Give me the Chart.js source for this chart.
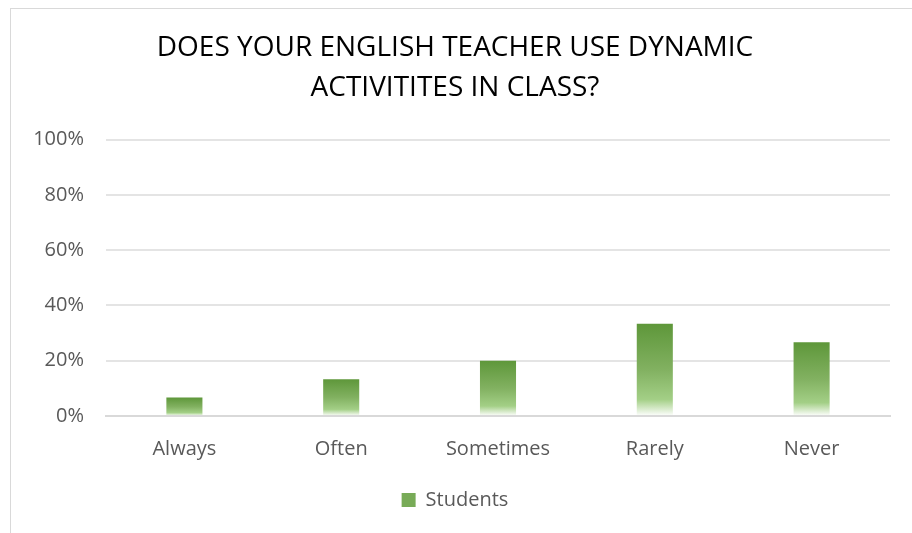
<!DOCTYPE html>
<html>
<head>
<meta charset="utf-8">
<script src="https://cdn.jsdelivr.net/npm/chart.js@4/dist/chart.umd.min.js"></script>
<style>
  html, body { margin: 0; padding: 0; background: #fff; }
  #frame {
    position: absolute; left: 10px; top: 8px; width: 920px; height: 540px;
    border-left: 1px solid #d9d9d9; border-top: 1px solid #d9d9d9;
  }
  #wrap { position: absolute; left: 0; top: 0; width: 912px; height: 533px; }
</style>
</head>
<body>
<div id="frame"></div>
<div id="wrap"><canvas id="chart"></canvas></div>
<script>
// chart data
const categories = ["Always", "Often", "Sometimes", "Rarely", "Never"];
const studentValues = [6.67, 13.33, 20, 33.33, 26.67];
const yTicks = [0, 20, 40, 60, 80, 100];
const titleLines = ["DOES YOUR ENGLISH TEACHER USE DYNAMIC", "ACTIVITITES IN CLASS?"];

const FONT = "'Open Sans', 'Liberation Sans', sans-serif";
const GREY = "#595959";

// per-bar gradient: dark green at top, fading to white at the base
function barFill(ctx) {
  const chart = ctx.chart;
  if (!chart.chartArea || ctx.dataIndex === undefined) return "#70a84c";
  const y = chart.scales.y;
  const top = y.getPixelForValue(studentValues[ctx.dataIndex]);
  const base = y.getPixelForValue(0);
  const g = chart.ctx.createLinearGradient(0, top, 0, base);
  g.addColorStop(0, "#5e973a");
  g.addColorStop(0.5, "#82b161");
  g.addColorStop(0.82, "#a3cf86");
  g.addColorStop(1, "#ffffff");
  return g;
}

new Chart(document.getElementById("chart"), {
  type: "bar",
  data: {
    labels: categories,
    datasets: [{
      label: "Students",
      data: studentValues,
      backgroundColor: barFill,
      borderWidth: 0,
      categoryPercentage: 0.46,
      barPercentage: 0.5,
    }],
  },
  options: {
    responsive: true,
    maintainAspectRatio: false,
    animation: false,
    layout: { padding: { left: 20, right: 22, top: 28, bottom: 13 } },
    plugins: {
      title: {
        display: true,
        text: titleLines,
        color: "#000",
        font: { family: FONT, size: 28, weight: "normal", lineHeight: 1.42 },
        padding: { top: 0, bottom: 32 },
      },
      legend: {
        position: "bottom",
        labels: {
          color: GREY,
          font: { family: FONT, size: 20 },
          boxWidth: 14,
          boxHeight: 14,
          padding: 16,
          generateLabels: () => [{
            text: "Students",
            fillStyle: "#78ab57",
            strokeStyle: "#78ab57",
            lineWidth: 0,
            fontColor: GREY,
          }],
        },
      },
      tooltip: { enabled: false },
    },
    scales: {
      x: {
        grid: { display: false },
        border: { color: "#d9d9d9", width: 2 },
        ticks: { color: GREY, font: { family: FONT, size: 20 }, padding: 13 },
      },
      y: {
        min: 0,
        max: 100,
        afterBuildTicks: (axis) => { axis.ticks = yTicks.map((v) => ({ value: v })); },
        afterFit: (axis) => { axis.width = 86; },
        grid: { color: "#e4e4e4", lineWidth: 2, drawTicks: false },
        border: { display: false },
        ticks: {
          color: GREY,
          font: { family: FONT, size: 20 },
          padding: 22,
          callback: (v) => v + "%",
        },
      },
    },
  },
});
</script>
</body>
</html>
